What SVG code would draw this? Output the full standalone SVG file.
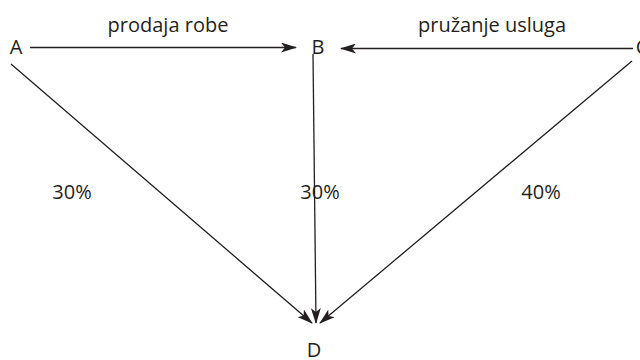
<svg xmlns="http://www.w3.org/2000/svg" width="640" height="360" viewBox="0 0 640 360">
<defs>
<marker id="ah" markerWidth="16" markerHeight="10" refX="15" refY="5" orient="auto" markerUnits="userSpaceOnUse">
<path d="M0,0 L16,5 L0,10 L4,5 Z" fill="#231f20"/>
</marker>
<style>
text{font-family:"Open Sans","Noto Sans",sans-serif;font-size:20px;fill:#231f20}
.c{stroke:#231f20;stroke-width:1.3;fill:none;marker-end:url(#ah)}
</style>
</defs>
<rect width="640" height="360" fill="#fff"/>
<g id="connectors">
<path class="c" d="M30,47.5 L296,47.5"/>
<path class="c" d="M633,48.5 L341,48.5"/>
<path class="c" d="M11,64 L312,323"/>
<path class="c" d="M313,54 L316,323"/>
<path class="c" d="M632,61 L320,323"/>
</g>
<g id="nodeA"><text x="16" y="54" text-anchor="middle">A</text></g>
<g id="nodeB"><text x="318" y="54" text-anchor="middle">B</text></g>
<g id="nodeC"><text x="642" y="54" text-anchor="middle">C</text></g>
<g id="nodeD"><text x="314" y="357" text-anchor="middle">D</text></g>
<g id="labels">
<text x="168" y="32" text-anchor="middle">prodaja robe</text>
<text x="492" y="32" text-anchor="middle">pružanje usluga</text>
<text x="72" y="199" text-anchor="middle">30%</text>
<text x="320" y="199" text-anchor="middle">30%</text>
<text x="541" y="199" text-anchor="middle">40%</text>
</g>
</svg>
